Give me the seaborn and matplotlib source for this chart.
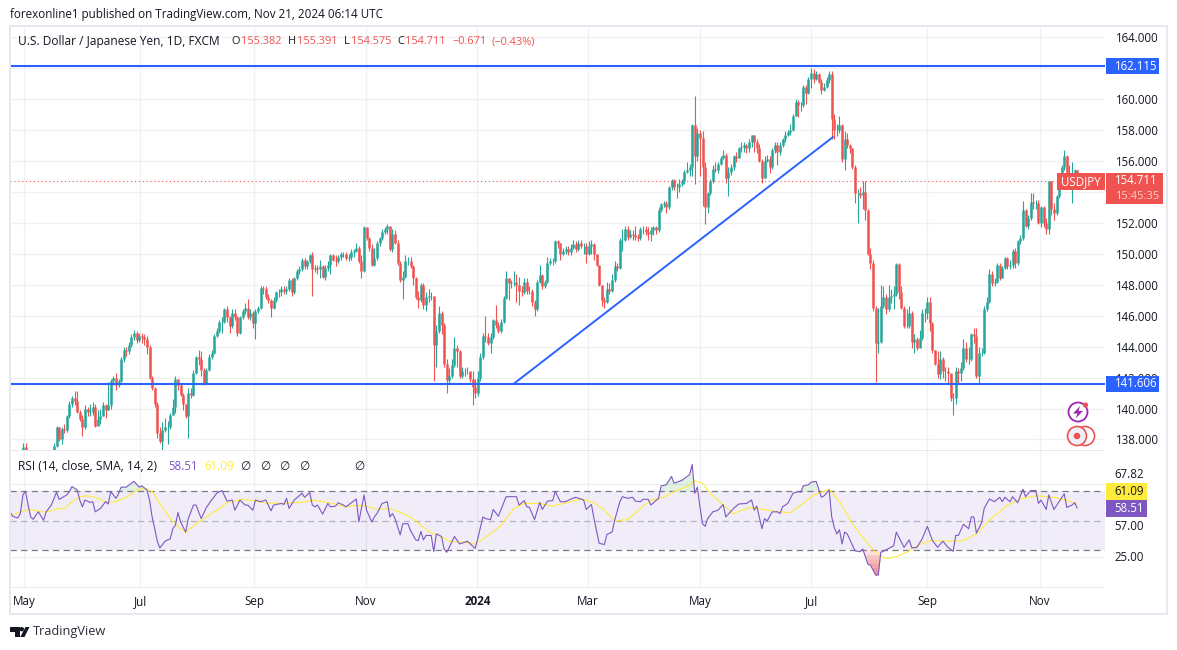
import matplotlib
matplotlib.use("Agg")
import matplotlib.pyplot as plt
from matplotlib.patches import Circle, Polygon, Rectangle
import numpy as np
import pandas as pd
import seaborn as sns

# daily closes, one per bar
closes = [
    134.2,133.7,133.6,134.0,136.3,137.5,136.6,135.0,134.2,134.8,
    135.1,135.2,134.4,134.5,135.7,136.1,136.4,137.6,138.8,138.0,
    138.7,138.6,139.5,140.3,140.7,140.5,139.8,139.3,138.8,140.0,
    139.8,139.8,140.1,138.9,139.3,139.5,140.2,139.9,140.2,141.8,
    142.0,141.5,141.8,143.2,143.8,143.7,144.1,144.6,144.9,144.4,
    144.7,144.6,144.5,144.0,142.0,141.3,140.3,138.4,137.9,138.6,
    138.8,138.8,139.6,140.1,141.9,141.5,140.9,140.3,139.5,141.0,
    140.9,142.3,143.3,143.2,142.5,141.6,142.5,143.3,143.6,144.7,
    145.0,145.6,145.6,146.4,145.9,145.3,146.2,145.9,144.9,145.9,
    146.3,146.5,145.9,146.2,145.5,146.3,146.5,147.8,147.7,147.2,
    147.0,146.5,147.0,147.5,147.5,147.7,147.6,147.7,148.3,147.5,
    148.4,148.9,149.0,149.6,149.2,149.5,149.9,149.0,149.1,149.0,
    149.2,148.5,149.1,149.3,149.9,149.6,149.5,149.8,150.0,150.0,
    149.7,149.8,150.1,150.2,150.4,149.5,148.9,151.7,151.0,150.4,
    149.3,149.7,150.7,151.0,151.4,151.6,151.8,150.3,151.3,150.7,
    149.4,148.3,148.5,149.5,149.5,149.2,148.4,147.2,147.0,148.0,
    146.7,147.2,147.25,147.3,144.1,145.0,146.2,145.4,142.9,141.85,
    142.1,142.8,143.9,143.7,142.1,142.4,142.4,142.4,141.9,141.4,
    141.0,142.0,143.3,144.7,144.6,144.25,144.6,145.75,145.4,145.0,
    145.6,147.15,148.45,148.1,148.2,148.2,148.0,147.6,147.5,148.2,
    147.6,147.6,146.9,146.4,148.2,148.65,147.9,148.2,149.4,149.5,
    149.5,150.8,150.7,150.0,150.2,150.3,150.1,150.4,150.6,150.3,
    150.7,150.5,150.5,150.0,150.5,150.6,150.0,149.3,148.0,147.0,
    146.9,147.7,147.6,148.3,149.2,149.1,150.9,150.9,151.6,151.1,
    151.3,151.2,151.1,151.0,151.6,151.6,151.4,151.3,151.5,151.7,
    151.5,152.8,153.2,153.3,153.0,154.3,154.75,154.3,154.3,154.5,
    154.7,155.3,155.4,155.6,158.3,156.3,157.8,157.5,155.6,153.0,
    153.9,154.7,155.5,155.4,155.8,156.2,156.4,154.9,155.3,155.6,
    156.3,156.2,156.8,156.9,157.0,156.8,157.2,157.7,157.2,156.8,
    156.0,154.9,156.0,156.1,155.6,156.7,157.05,156.6,157.0,157.4,
    157.7,157.85,158.0,158.9,159.8,159.6,159.6,160.8,160.4,161.3,
    161.7,161.3,161.6,161.1,160.6,160.8,161.2,161.6,158.7,158.0,
    158.0,158.3,156.1,157.4,157.0,156.8,155.6,153.9,153.9,153.8,
    154.0,152.8,150.0,149.4,146.5,144.2,144.3,146.6,147.2,146.4,
    147.2,147.3,147.4,149.35,147.5,146.5,145.3,145.3,146.2,144.3,
    144.5,143.9,144.55,146.2,146.2,146.9,145.5,143.75,142.9,142.2,
    143.2,142.4,142.4,142.3,140.7,140.7,142.4,142.3,142.6,143.9,
    143.2,143.2,144.8,144.7,142.1,143.6,143.6,146.45,146.9,148.7,
    148.1,148.2,149.3,148.45,149.1,149.7,149.2,149.3,150.2,149.4,
    150.8,151.0,152.8,151.8,152.3,153.35,153.3,153.3,152.0,153.0,
    152.0,151.6,154.7,152.9,152.6,153.7,154.2,155.6,156.3,155.2,
    155.0,155.0,155.4,154.711,
]
highs = [
    134.6,134.4,134.0,134.5,136.6,137.8,137.8,136.8,135.1,135.1,
    135.3,135.7,135.5,134.8,135.8,136.3,136.7,137.8,138.9,138.8,
    138.8,139.0,139.6,140.5,140.8,141.1,141.1,139.9,139.6,140.2,
    140.1,140.3,140.4,140.3,139.9,140.0,140.4,140.3,141.7,141.9,
    142.1,142.3,141.9,143.3,144.0,144.0,144.3,144.8,145.1,145.0,
    144.9,144.9,144.8,144.7,144.1,142.1,141.4,140.4,138.8,139.1,
    139.4,139.2,139.7,140.6,142.1,141.9,141.6,141.0,140.3,141.3,
    141.3,142.5,143.4,143.8,143.7,142.6,142.6,143.5,143.8,144.8,
    145.2,145.7,145.9,146.5,146.6,146.0,146.4,146.4,146.0,146.0,
    146.4,146.8,147.1,146.4,146.3,146.4,146.6,147.9,147.9,147.9,
    147.4,147.1,147.2,147.6,147.7,147.9,147.9,147.9,148.4,148.4,
    148.5,149.0,149.2,149.7,149.7,149.6,150.0,150.1,149.3,149.3,
    149.6,149.3,149.3,149.5,150.0,150.0,149.9,149.9,150.1,150.1,
    150.1,150.0,150.3,150.3,150.7,150.5,149.9,151.8,151.7,151.1,
    150.6,150.4,150.8,151.1,151.6,151.7,151.9,151.8,151.6,151.5,
    150.9,149.5,148.9,149.9,149.8,149.8,149.3,148.5,147.6,148.1,
    148.1,147.5,147.7,147.5,147.3,145.4,146.6,146.3,145.5,143.2,
    142.6,143.2,144.6,144.1,143.8,142.7,142.6,142.7,142.4,142.4,
    141.9,142.4,143.6,144.9,146.0,144.9,144.9,145.8,146.7,145.6,
    145.8,147.3,148.9,148.4,148.3,148.9,148.7,148.5,147.9,148.4,
    148.4,147.9,147.7,147.0,148.3,149.3,148.7,148.3,149.8,149.7,
    149.7,150.9,150.9,150.7,150.4,150.5,150.5,150.6,150.9,150.8,
    150.9,150.9,150.7,150.7,150.8,150.9,150.7,150.0,149.3,148.0,
    147.2,148.2,148.1,148.7,149.5,149.4,151.0,151.6,151.8,151.8,
    151.5,151.5,151.8,151.3,151.7,151.8,151.8,151.7,151.7,151.8,
    151.8,153.0,153.3,153.4,153.4,154.4,154.8,154.8,154.6,154.8,
    154.8,155.4,155.9,155.8,158.4,160.2,158.1,158.0,157.9,155.9,
    154.0,154.8,155.7,155.9,155.9,156.3,156.7,156.5,155.6,155.8,
    156.4,156.6,156.9,157.2,157.2,157.1,157.4,157.7,157.7,157.4,
    157.1,156.1,156.3,156.4,156.3,156.8,157.2,157.2,157.2,157.5,
    157.9,158.0,158.4,159.0,160.0,159.9,159.8,160.9,160.9,161.4,
    162.0,161.95,161.8,161.7,161.3,161.0,161.4,161.8,161.8,159.0,
    158.4,158.9,158.4,157.9,157.8,157.1,156.8,155.7,154.2,154.3,
    154.7,154.7,152.9,150.4,149.6,146.6,146.5,148.0,147.9,147.4,
    148.0,147.7,147.9,149.4,149.4,147.9,146.6,146.4,146.6,146.3,
    144.8,144.6,145.1,146.4,146.5,147.2,147.2,145.6,143.8,143.7,
    143.7,143.3,142.7,142.7,142.0,141.0,142.7,142.6,143.0,144.5,
    144.3,144.0,144.9,145.2,145.2,144.0,143.9,146.6,147.2,149.0,
    148.9,148.4,149.4,149.4,149.2,149.8,149.8,149.6,150.3,150.4,
    150.9,151.2,153.4,152.9,152.5,153.9,153.9,153.5,153.5,153.1,
    153.1,152.3,154.7,154.7,153.3,153.8,154.7,155.7,156.7,156.4,
    155.7,155.9,155.5,155.391,
]
lows = [
    133.9,133.4,133.0,133.5,133.7,136.0,136.3,134.9,133.6,134.2,
    134.6,134.7,134.0,133.8,134.3,135.5,135.7,136.3,137.5,137.9,
    137.7,138.4,138.5,139.4,140.1,140.2,139.7,139.2,138.2,138.7,
    139.5,139.5,139.6,138.8,138.9,139.0,139.5,139.4,139.9,140.0,
    141.5,141.2,141.4,141.7,143.0,143.4,143.5,144.0,144.4,144.2,
    144.3,144.2,144.1,143.5,141.9,141.2,140.1,138.1,137.8,137.3,
    138.5,137.7,138.7,139.6,139.7,141.2,140.8,139.9,139.4,138.1,
    140.7,140.8,142.2,142.8,142.1,141.5,141.6,142.4,143.2,143.5,
    144.6,144.9,144.9,145.5,145.6,144.9,145.2,145.7,144.7,144.8,
    145.8,146.1,145.8,145.7,145.2,144.5,146.2,146.4,147.4,147.1,
    146.8,145.9,146.4,146.9,147.2,147.3,147.4,147.4,147.6,147.3,
    147.4,148.3,148.7,148.9,149.0,149.0,149.4,147.3,148.8,148.7,
    148.4,148.4,148.3,148.9,148.7,149.5,149.2,149.4,149.6,149.8,
    149.6,149.5,149.6,149.8,150.1,149.4,148.4,148.8,150.9,150.2,
    149.2,149.2,149.6,150.5,150.9,151.3,151.3,150.2,150.1,150.6,
    149.3,148.2,147.1,148.4,149.3,149.1,148.0,147.1,146.5,146.9,
    146.4,146.3,146.9,147.0,141.8,142.7,144.9,144.8,142.7,141.0,
    141.6,142.0,142.7,142.7,142.0,142.0,142.1,142.2,141.7,140.2,
    140.7,140.8,141.8,143.2,144.3,144.1,143.6,144.5,145.2,144.9,
    144.9,145.5,147.1,147.0,147.8,147.9,146.9,146.7,147.3,147.4,
    147.4,147.4,146.6,146.0,146.3,148.1,147.7,147.8,148.1,149.3,
    149.3,149.4,150.4,149.6,149.9,150.0,149.9,149.9,150.3,150.1,
    150.2,150.4,150.0,149.4,149.9,150.0,149.6,149.2,147.9,146.6,
    146.5,146.8,147.4,147.5,148.2,148.9,149.0,150.2,150.8,150.9,
    151.0,150.9,150.9,150.8,150.9,151.3,151.2,150.9,150.8,151.2,
    151.3,151.4,152.7,153.0,152.6,152.9,154.1,154.1,153.6,154.0,
    154.4,154.5,155.2,155.0,155.0,154.5,156.0,155.0,153.1,151.9,
    152.6,153.8,154.6,155.3,155.2,155.7,156.1,154.6,153.7,155.1,
    155.4,155.9,156.2,156.6,156.6,156.5,156.6,156.9,156.6,156.5,
    155.9,154.6,154.9,155.9,155.2,155.5,156.5,155.7,156.4,156.9,
    157.2,157.6,157.7,157.9,158.9,158.8,159.2,159.5,159.7,160.3,
    160.7,161.0,161.2,161.0,160.3,160.5,160.7,161.0,157.4,157.4,
    157.6,157.8,155.9,155.4,156.8,156.5,155.5,153.3,152.0,153.6,
    152.9,152.2,149.9,149.0,146.3,141.7,143.6,144.2,146.5,146.1,
    146.3,146.8,146.4,147.3,147.1,146.4,145.2,145.2,145.2,143.9,
    143.6,143.8,144.1,144.4,145.6,145.8,145.0,143.6,142.8,142.0,
    141.9,142.0,141.8,141.6,140.5,139.6,140.3,141.6,141.8,142.5,
    143.0,142.9,143.1,144.2,142.0,141.6,143.4,143.5,146.3,146.8,
    147.9,147.9,148.1,148.3,148.4,149.0,149.0,149.0,149.1,149.1,
    149.3,150.6,150.9,151.7,151.6,152.2,152.9,152.9,151.9,151.7,
    151.7,151.3,151.3,152.5,152.2,152.5,153.6,154.2,155.4,155.1,
    154.3,153.3,154.6,154.575,
]

# RSI line, bar number and value
rsi_bars = [
    0,1,3,4,5,6,7,8,9,10,11,13,14,16,18,19,22,23,24,26,27,28,29,31,32,33,35,37,38,39,41,42,43,45,47,48,
    50,51,53,54,55,56,57,58,60,62,63,64,65,66,68,69,71,72,74,76,78,80,82,84,86,87,89,91,92,94,95,97,99,
    101,102,105,106,107,108,110,113,114,116,117,118,119,121,123,124,126,127,129,130,134,135,137,138,140,
    141,142,144,146,147,148,149,151,152,154,155,157,158,159,160,161,163,164,165,167,168,169,170,172,174,
    176,177,180,181,183,184,186,187,189,192,196,197,199,200,201,203,205,206,208,210,211,213,215,217,219,
    222,223,225,226,228,230,231,233,234,236,237,239,241,242,244,245,247,248,251,252,254,256,257,260,263,
    264,265,266,267,268,269,270,272,274,276,277,280,282,285,287,288,289,291,292,293,295,297,298,299,301,
    303,305,306,307,309,310,312,314,315,317,318,319,320,321,322,323,324,327,329,330,332,333,335,336,337,
    339,342,343,346,348,349,351,353,355,357,359,361,363,365,366,367,369,371,372,373,374,376,377,379,381,
    383,384,385,387,388,390,392,393,395,397,398,399,401,402,404,406,408,409,411,412,413,
]
rsi_vals = [
    56.0,53.0,51.8,54.8,67.5,70.0,60.6,52.5,50.9,53.7,56.0,50.2,56.0,60.6,69.3,64.5,67.5,69.8,73.2,70.9,64.0,59.4,64.0,62.4,62.9,56.0,58.3,62.9,61.3,69.8,65.2,68.2,72.8,72.8,75.5,76.7,
    72.8,73.7,70.9,64.0,52.5,44.5,36.0,31.4,36.0,37.6,44.5,46.8,55.5,49.1,42.2,51.4,60.6,60.6,51.4,59.0,64.0,68.6,70.5,63.3,64.0,57.1,64.0,60.6,60.6,57.1,64.0,62.9,64.0,
    56.7,60.6,61.7,61.0,65.2,58.3,64.0,68.6,65.9,69.1,60.6,59.4,60.6,54.4,61.7,59.4,59.9,62.2,60.6,59.4,64.7,49.1,67.5,57.1,49.1,
    52.5,54.8,61.7,62.9,52.5,54.8,51.4,40.3,47.9,47.9,43.3,36.9,36.4,42.6,36.9,39.9,39.9,28.8,41.0,39.2,30.7,28.4,31.8,39.2,34.1,
    35.3,36.0,31.1,37.6,52.5,51.4,50.7,57.6,53.0,66.3,66.3,60.6,63.6,59.4,59.0,50.7,62.4,57.6,63.3,63.6,69.8,62.9,62.9,64.7,65.9,
    64.0,57.6,61.0,51.4,34.6,33.7,40.6,42.2,50.2,62.9,66.3,65.2,65.9,63.3,62.9,64.5,64.5,60.6,65.2,73.7,74.4,80.1,75.5,77.4,81.3,
    88.2,68.6,72.8,59.4,47.9,46.1,51.4,56.0,57.1,61.0,52.5,58.3,61.3,61.7,64.0,57.1,59.9,44.5,51.4,49.8,56.0,56.0,54.8,59.4,61.7,
    68.6,69.8,69.3,73.7,74.4,76.2,76.7,65.9,66.8,70.9,52.5,45.2,41.0,43.8,34.1,42.2,41.0,29.5,28.8,30.7,20.3,19.6,13.0,13.0,28.4,
    30.0,33.0,42.2,31.8,36.9,31.4,31.8,37.6,46.1,36.4,31.8,36.0,31.8,29.1,39.9,39.9,47.5,44.5,52.5,52.5,41.5,48.4,58.3,64.7,62.9,
    65.9,62.9,65.9,62.9,66.3,62.2,71.4,66.3,70.5,70.5,61.7,64.0,57.6,67.5,57.6,62.9,68.2,59.0,60.6,62.2,58.51,
]

# RSI moving average, bar number and value
sma_bars = [
    1,4,8,12,15,18,21,24,27,30,34,37,41,46,49,52,55,58,62,66,68,72,77,81,84,88,90,93,98,105,110,115,117,
    123,130,135,139,142,147,150,155,159,163,166,170,176,180,185,190,195,199,205,210,216,221,226,230,234,
    239,244,248,252,257,262,265,268,271,276,280,286,292,297,302,306,311,317,321,326,331,335,339,343,347,
    352,356,363,369,374,379,386,391,397,404,409,413,
]
sma_vals = [
    53.7,56.0,57.6,56.0,56.0,58.1,58.1,62.9,66.3,67.0,65.2,62.4,62.9,66.8,70.9,72.1,69.8,61.7,51.4,44.5,42.2,47.9,53.7,58.3,62.4,63.6,64.5,64.0,62.2,61.7,62.2,62.9,64.0,
    62.4,59.4,60.6,59.4,57.6,58.3,56.4,52.5,46.8,41.5,39.9,36.0,35.3,34.1,39.9,46.8,58.3,61.7,61.7,59.9,62.4,64.7,62.4,57.1,49.8,
    50.7,58.3,64.0,65.2,69.8,73.2,77.1,75.5,68.6,60.6,54.8,59.0,57.6,56.0,55.5,60.6,67.5,71.4,62.9,47.9,36.4,28.4,24.2,25.4,28.4,
    33.7,36.4,36.0,36.4,41.0,50.2,60.6,64.7,67.0,65.9,64.0,61.09,
]

support_level = 141.606
resistance_level = 162.115
last_price = 154.711
trend_bars = [195, 318.5]
trend_prices = [141.606, 157.54]

# 162 has no label on the chart, its tag sits there
price_ticks = [138, 140, 142, 144, 146, 148, 150, 152, 154, 156, 158, 160, 162, 164]
date_ticks = [5.6, 50.5, 94.4, 137.8, 180.9, 223.7, 267.1, 310, 354.9, 398.6]
date_labels = ["May", "Jul", "Sep", "Nov", "2024", "Mar", "May", "Jul", "Sep", "Nov"]

GREEN = "#26a69a"
RED = "#ef5350"
BLUE = "#2962ff"
PURPLE = "#7e57c2"
YELLOW = "#ffeb3b"
GRID = "#f0f1f4"
TEXT = "#131722"
FRAME = "#e6e8f0"
W, H = 1177, 650

sns.set_theme(style="white")
plt.rcParams["font.family"] = ["Open Sans", "DejaVu Sans"]
plt.rcParams["font.size"] = 8.3

df = pd.DataFrame({"close": closes, "high": highs, "low": lows})
df["bar"] = np.arange(len(df))
df["open"] = df["close"].shift(1).fillna(df["close"].iloc[0])
df["colour"] = np.where(df["close"] >= df["open"], GREEN, RED)
rsi_df = pd.DataFrame({"bar": rsi_bars, "rsi": rsi_vals})
sma_df = pd.DataFrame({"bar": sma_bars, "sma": sma_vals})


def px_axes(left, top, right, bottom):
    return [left / W, 1 - bottom / H, (right - left) / W, (bottom - top) / H]


fig = plt.figure(figsize=(W / 100, H / 100), dpi=100, facecolor="white")
ax = fig.add_axes(px_axes(10, 25, 1105, 450))
ax_rsi = fig.add_axes(px_axes(10, 450, 1105, 587), sharex=ax)

# price pane
ax.vlines(df["bar"], df["low"], df["high"], colors=df["colour"], lw=0.8, zorder=2)
ax.vlines(df["bar"], df["open"], df["close"], colors=df["colour"], lw=1.8, zorder=3)
ax.axhline(resistance_level, color=BLUE, lw=1.5, zorder=4)
ax.axhline(support_level, color=BLUE, lw=1.5, zorder=4)
sns.lineplot(x=trend_bars, y=trend_prices, color=BLUE, lw=1.4, ax=ax, zorder=4)
ax.axhline(last_price, color=RED, lw=0.8, ls=(0, (1, 2.5)), zorder=4)

ax.set_xlim(0, 1095 / 2.584)
ax.set_ylim(137.32, 164.775)
ax.set_yticks(price_ticks)
ax.set_yticklabels(["" if p == 162 else f"{p:.3f}" for p in price_ticks], color=TEXT)
ax.yaxis.tick_right()
ax.tick_params(axis="y", length=0, pad=8, labelsize=8.3)
ax.tick_params(axis="x", length=0, labelbottom=False)
ax.grid(True, color=GRID, lw=1)
ax.set_axisbelow(True)
ax.set_xticks(date_ticks)
ax.set_xlabel("")
ax.set_ylabel("")

# RSI pane
ax_rsi.axhspan(30, 70, color=PURPLE, alpha=0.1, lw=0, zorder=1)
for lvl, alpha in [(70, 1), (50, 0.5), (30, 1)]:
    ax_rsi.axhline(lvl, color="#787b86", lw=0.9, ls=(0, (5, 3.5)), alpha=alpha, zorder=2)

rsi_x = np.array(rsi_bars, dtype=float)
rsi_y = np.array(rsi_vals)
ax_rsi.fill_between(rsi_x, 70, rsi_y, where=rsi_y > 70, interpolate=True, color="#4caf50", alpha=0.16, lw=0, zorder=2)
for t in [30, 27, 24, 21, 18, 15]:
    ax_rsi.fill_between(rsi_x, t, rsi_y, where=rsi_y < t, interpolate=True, color=RED, alpha=0.16, lw=0, zorder=2)

sns.lineplot(data=sma_df, x="bar", y="sma", color=YELLOW, lw=0.8, ax=ax_rsi, zorder=3)
sns.lineplot(data=rsi_df, x="bar", y="rsi", color=PURPLE, lw=0.8, ax=ax_rsi, zorder=4)

ax_rsi.set_ylim(4.8, 98.1)
ax_rsi.set_yticks([25, 75])
ax_rsi.set_yticklabels([])
ax_rsi.tick_params(axis="y", length=0)
ax_rsi.grid(True, color=GRID, lw=1)
ax_rsi.set_axisbelow(True)
ax_rsi.set_xticks(date_ticks)
ax_rsi.set_xticklabels(date_labels, color=TEXT, fontsize=8.4)
ax_rsi.get_xticklabels()[4].set_fontweight("bold")
ax_rsi.tick_params(axis="x", length=0, pad=6)
ax_rsi.set_xlabel("")
ax_rsi.set_ylabel("")
sns.despine(ax=ax, left=True, right=True, top=True, bottom=True)
sns.despine(ax=ax_rsi, left=True, right=True, top=True, bottom=True)

# value tags on the right scale, they follow the data
trans = ax.get_yaxis_transform()
for level in [resistance_level, support_level]:
    ax.add_patch(Rectangle((1.001, level - 0.52), 0.0485, 1.04, transform=trans, fc=BLUE, ec="none",
                           clip_on=False, zorder=7))
    ax.text(1.0095, level, f"{level:.3f}", transform=trans, color="white", ha="left", va="center",
            fontsize=8.3, clip_on=False, zorder=8)

# overlay in pixel coordinates: frame, header, legends, boxes, icons, logo
ov = fig.add_axes([0, 0, 1, 1], zorder=10)
ov.set_xlim(0, W)
ov.set_ylim(H, 0)
ov.axis("off")
ov.patch.set_alpha(0)

for x0, y0, w, h in [(9, 25, 1158, 2), (9, 25, 2, 590), (9, 613, 1158, 2), (1166, 25, 2, 590), (9, 449.5, 1096, 1.5), (9, 587, 1096, 1)]:
    ov.add_patch(Rectangle((x0, y0), w, h, fc=FRAME, ec="none"))


def txt(x, y, s, color=TEXT, size=8.3, **kw):
    ov.text(x, y, s, color=color, fontsize=size, va="center", ha=kw.pop("ha", "left"), **kw)


txt(10, 14.5, "forexonline1 published on TradingView.com, Nov 21, 2024 06:14 UTC", size=8.4)

txt(18, 42, "U.S. Dollar / Japanese Yen, 1D, FXCM", size=8.6)
for x, s, c in [(231, "O", TEXT), (241, "155.382", RED), (288, "H", TEXT), (297, "155.391", RED),
                (344, "L", TEXT), (351, "154.575", RED), (397, "C", TEXT), (405, "154.711", RED),
                (452, "\u22120.671", RED), (492, "(\u22120.43%)", RED)]:
    txt(x, 42, s, c, size=7.9)

txt(18, 466, "RSI (14, close, SMA, 14, 2)", size=8.6)
txt(168, 466, "58.51", PURPLE)
txt(204, 466, "61.09", YELLOW)
for x in [245, 265, 284, 304, 359]:
    txt(x, 466, "\u2205", ha="center", family="DejaVu Sans", size=8.5)

# last price boxes
ov.add_patch(Rectangle((1057, 173), 48, 17, fc=RED, ec="none"))
ov.add_patch(Rectangle((1106, 173), 57, 31, fc=RED, ec="none"))
txt(1081, 181.5, "USDJPY", "white", ha="center")
txt(1115, 181, "154.711", "white")
txt(1115, 196.5, "15:45:35", "#fbd0cf", size=8.0)

# RSI scale labels and boxes
txt(1114, 474, "67.82")
txt(1114, 526, "57.00")
txt(1114, 557.5, "25.00")
ov.add_patch(Rectangle((1106, 483), 41, 17, fc=YELLOW, ec="none"))
ov.add_patch(Rectangle((1106, 500), 41, 17, fc=PURPLE, ec="none"))
txt(1114, 491.5, "61.09")
txt(1114, 508.5, "58.51", "white")

# chart icons
ov.add_patch(Circle((1078, 412), 9.5, fc="white", ec="#9c27b0", lw=1.3))
ov.add_patch(Polygon([(1080, 406), (1073, 413.5), (1077.5, 413.5), (1075.5, 418.5), (1083, 411), (1078.5, 411)], fc="#9c27b0", ec="none"))
ov.add_patch(Circle((1085.5, 405), 2.6, fc=RED, ec="none"))
ov.add_patch(Circle((1085, 436), 9.5, fc="white", ec=RED, lw=1.2))
ov.add_patch(Circle((1077, 436), 9.5, fc="#eef0f8", ec=RED, lw=1.2))
ov.add_patch(Circle((1077, 436), 3.3, fc=RED, ec="none"))

# TradingView logo
ov.add_patch(Polygon([(10, 627), (19.5, 627), (19.5, 637), (14.5, 637), (14.5, 631.5), (10, 631.5)], fc=TEXT, ec="none"))
ov.add_patch(Circle((21.8, 629.2), 2.2, fc=TEXT, ec="none"))
ov.add_patch(Polygon([(25.5, 627), (29.5, 627), (24.5, 637), (20.3, 637)], fc=TEXT, ec="none"))
txt(33, 632, "TradingView", "#2a2e39", size=9.2)

fig.savefig("out.png", dpi=100)
